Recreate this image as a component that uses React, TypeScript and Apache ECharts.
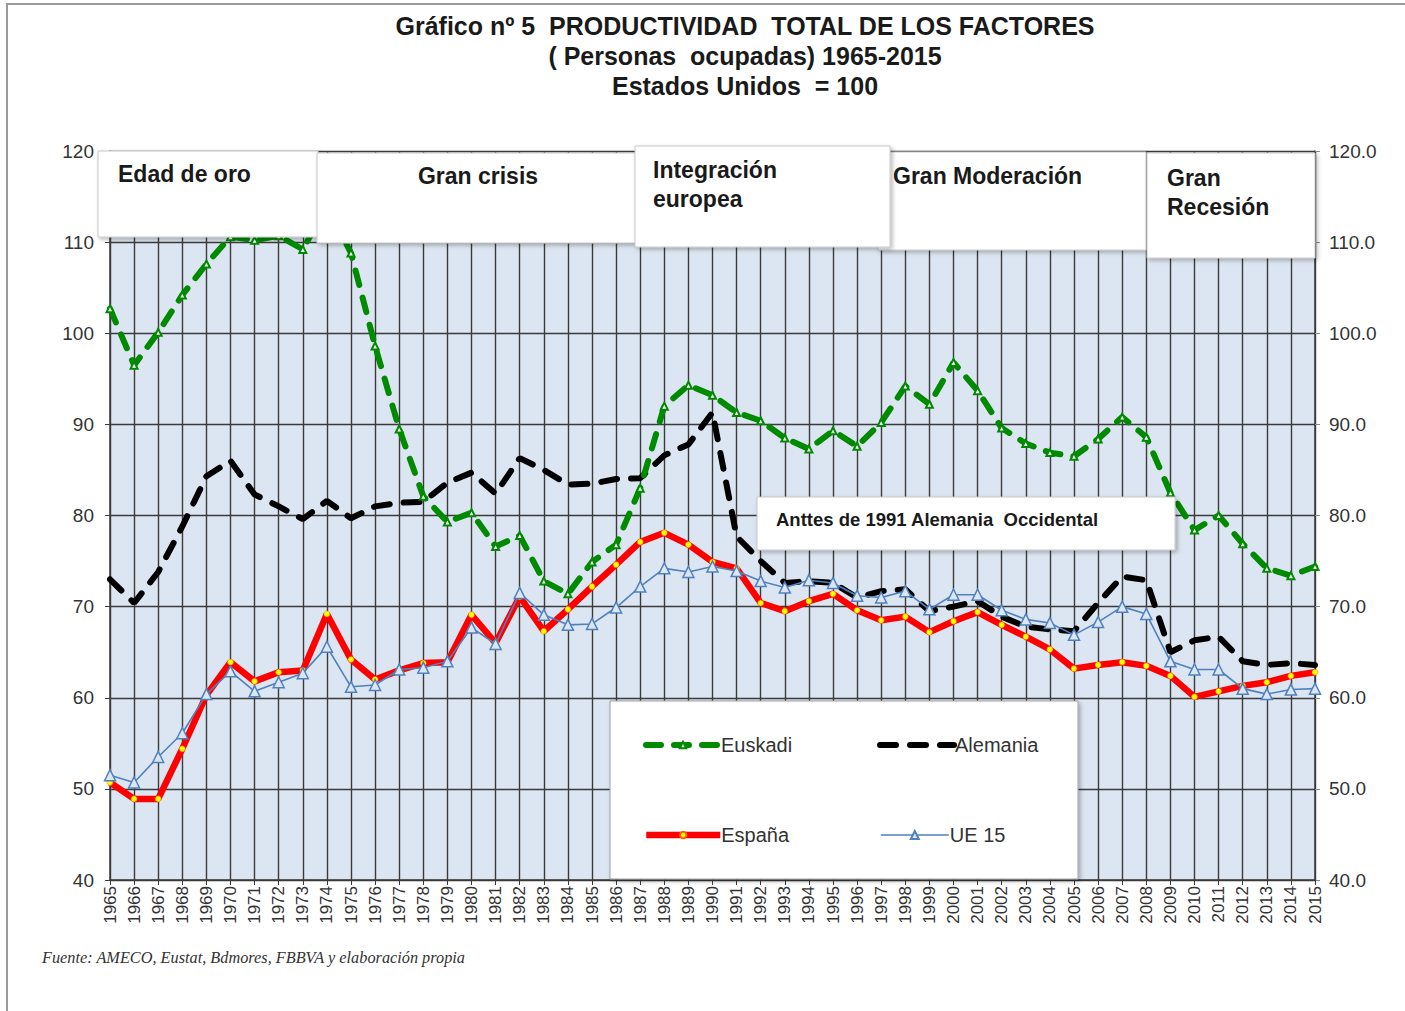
import React, { useEffect, useRef } from "react";
import * as echarts from "echarts";

const years: string[] = [];
for (let y = 1965; y <= 2015; y++) years.push(String(y));

const euskadi = [
  102.7, 96.5, 100.1, 104.2, 107.6, 110.6, 110.2, 110.7, 109.2, 114.0,
  108.8, 98.6, 89.5, 82.1, 79.3, 80.3, 76.6, 77.8, 72.8, 71.4,
  74.9, 76.8, 83.0, 92.0, 94.3, 93.2, 91.3, 90.4, 88.5, 87.3,
  89.3, 87.6, 90.2, 94.2, 92.2, 96.8, 93.7, 89.6, 87.9, 86.9,
  86.5, 88.4, 90.8, 88.6, 82.5, 78.4, 80.0, 76.9, 74.2, 73.4,
  74.4,
];

const alemania = [
  73.0, 70.4, 73.8, 78.8, 84.3, 86.0, 82.3, 81.0, 79.6, 81.6,
  79.7, 81.0, 81.4, 81.5, 83.6, 84.7, 82.4, 86.3, 85.0, 83.4,
  83.5, 84.0, 84.1, 86.6, 87.8, 91.3, 77.7, 75.0, 72.6, 72.8,
  72.6, 71.0, 71.7, 71.9, 69.5, 70.0, 70.6, 68.9, 67.8, 67.5,
  67.3, 70.4, 73.3, 72.9, 65.0, 66.3, 66.7, 64.0, 63.6, 63.8,
  63.6,
];

const espana = [
  50.7, 48.9, 48.9, 54.4, 60.3, 63.9, 61.8, 62.8, 63.0, 69.2,
  64.2, 62.0, 63.0, 63.8, 63.9, 69.1, 66.0, 71.1, 67.3, 69.7,
  72.2, 74.6, 77.1, 78.1, 76.8, 74.9, 74.2, 70.4, 69.5, 70.6,
  71.4, 69.6, 68.5, 68.9, 67.2, 68.4, 69.4, 68.0, 66.7, 65.3,
  63.2, 63.6, 63.9, 63.5, 62.4, 60.1, 60.7, 61.3, 61.7, 62.4,
  62.8,
];

const ue15 = [
  51.5, 50.7, 53.5, 56.1, 60.4, 62.9, 60.7, 61.7, 62.7, 65.6,
  61.2, 61.4, 63.1, 63.3, 64.0, 67.7, 65.9, 71.5, 69.1, 68.0,
  68.1, 69.9, 72.2, 74.2, 73.8, 74.4, 73.9, 72.8, 72.1, 72.9,
  72.6, 71.2, 71.0, 71.7, 69.7, 71.3, 71.3, 69.6, 68.6, 68.2,
  66.9, 68.3, 70.0, 69.2, 64.0, 63.1, 63.1, 61.0, 60.4, 60.9,
  61.0,
];

const titleLines = [
  "Gráfico nº 5  PRODUCTIVIDAD  TOTAL DE LOS FACTORES",
  "( Personas  ocupadas) 1965-2015",
  "Estados Unidos  = 100",
];

const periodLabels = [
  "Edad de oro",
  "Gran crisis",
  "Integración\neuropea",
  "Gran Moderación",
  "Gran\nRecesión",
];

const noteText = "Anttes de 1991 Alemania  Occidental";
const sourceText = "Fuente: AMECO, Eustat, Bdmores, FBBVA y elaboración propia";

const FONT = "'Liberation Sans', Arial, Helvetica, sans-serif";
const GRID = "#3a3a3a";

const boxStyle = {
  fill: "#ffffff",
  stroke: "#c8c8c8",
  lineWidth: 1,
  shadowBlur: 4,
  shadowColor: "rgba(0,0,0,0.28)",
  shadowOffsetX: 2,
  shadowOffsetY: 2,
};

function boxText(x: number, y: number, text: string, extra: any = {}) {
  return {
    type: "text",
    x,
    y,
    z: 101,
    style: {
      text,
      fontFamily: FONT,
      fontSize: 23,
      fontWeight: "bold",
      fill: "#1a1a1a",
      lineHeight: 29,
      verticalAlign: "top",
      ...extra,
    },
  };
}

function legendFor(
  name: string,
  left: number,
  top: number,
  itemWidth: number,
  itemHeight: number,
  lineWidth: number,
  itemStyle: any = {}
) {
  return {
    show: true,
    data: [name],
    left,
    top,
    z: 50,
    padding: 0,
    itemWidth,
    itemHeight,
    itemGap: 0,
    selectedMode: false,
    lineStyle: { width: lineWidth },
    itemStyle,
    textStyle: { fontFamily: FONT, fontSize: 20, color: "#333333", padding: [0, 0, 0, -4] },
  };
}

export default function App() {
  const ref = useRef<HTMLDivElement>(null);

  useEffect(() => {
    if (!ref.current) return;
    const chart = echarts.init(ref.current, undefined, { renderer: "svg" });

    const option: any = {
      animation: false,
      backgroundColor: "#ffffff",
      title: {
        text: titleLines.join("\n"),
        left: 745,
        top: 11,
        padding: 0,
        textAlign: "center",
        textStyle: {
          fontFamily: FONT,
          fontSize: 25,
          fontWeight: "bold",
          color: "#1a1a1a",
          lineHeight: 30,
        },
      },
      legend: [
        legendFor("Euskadi", 643, 735, 74, 8, 6),
        legendFor("Alemania", 877, 735, 74, 8, 6, { opacity: 0 }),
        legendFor("España", 643, 825, 74, 8, 6.5),
        legendFor("UE 15", 880, 825, 68, 10, 1.6),
      ],
      grid: {
        left: 110,
        right: 90,
        top: 151,
        bottom: 131,
        show: true,
        backgroundColor: "#dce6f2",
        borderWidth: 0,
        containLabel: false,
      },
      xAxis: {
        type: "category",
        data: years,
        boundaryGap: false,
        axisLine: { show: true, lineStyle: { color: GRID, width: 1.5 } },
        axisTick: { show: true, length: 5, lineStyle: { color: GRID } },
        axisLabel: {
          rotate: 90,
          interval: 0,
          margin: 6,
          fontFamily: FONT,
          fontSize: 17,
          color: "#333333",
        },
        splitLine: { show: true, lineStyle: { color: GRID, width: 1.4 } },
      },
      yAxis: [
        {
          type: "value",
          min: 40,
          max: 120,
          interval: 10,
          position: "left",
          axisLine: { show: true, lineStyle: { color: GRID, width: 1.5 } },
          axisTick: { show: true, length: 5, lineStyle: { color: GRID } },
          axisLabel: { fontFamily: FONT, fontSize: 19, color: "#333333", margin: 16 },
          splitLine: { show: true, lineStyle: { color: GRID, width: 1.4 } },
        },
        {
          type: "value",
          min: 40,
          max: 120,
          interval: 10,
          position: "right",
          axisLine: { show: true, lineStyle: { color: GRID, width: 1.5 } },
          axisTick: { show: true, length: 5, lineStyle: { color: "#888888" } },
          axisLabel: {
            fontFamily: FONT,
            fontSize: 19,
            color: "#333333",
            margin: 14,
            formatter: (v: number) => v.toFixed(1),
          },
          splitLine: { show: false },
        },
      ],
      series: [
        {
          name: "Euskadi",
          type: "line",
          data: euskadi,
          yAxisIndex: 0,
          symbol: "emptyTriangle",
          symbolSize: 7,
          z: 3,
          itemStyle: { color: "#008a00", borderWidth: 1 },
          lineStyle: { color: "#008a00", width: 6, type: [15, 13], cap: "round" },
        },
        {
          name: "Alemania",
          type: "line",
          data: alemania,
          yAxisIndex: 0,
          symbol: "none",
          z: 2,
          itemStyle: { color: "#000000" },
          lineStyle: { color: "#000000", width: 6, type: [16, 14], cap: "round" },
        },
        {
          name: "España",
          type: "line",
          data: espana,
          yAxisIndex: 0,
          symbol: "circle",
          symbolSize: 6,
          z: 4,
          itemStyle: { color: "#ffff00", borderColor: "#ff6000", borderWidth: 0.5 },
          lineStyle: { color: "#ff0000", width: 6.5 },
        },
        {
          name: "UE 15",
          type: "line",
          data: ue15,
          yAxisIndex: 0,
          symbol: "triangle",
          symbolSize: 11,
          z: 5,
          itemStyle: { color: "#dce6f2", borderColor: "#4f81bd", borderWidth: 1.5 },
          lineStyle: { color: "#4f81bd", width: 1.6 },
        },
      ],
      graphic: [
        {
          type: "polyline",
          z: 0,
          silent: true,
          shape: { points: [[7, 1011], [7, 4], [1405, 4]] },
          style: { stroke: "#9a9a9a", lineWidth: 2, fill: "none" },
        },
        { type: "rect", z: 100, shape: { x: 98, y: 151, width: 220, height: 86 }, style: boxStyle },
        { type: "rect", z: 100, shape: { x: 317, y: 153, width: 319, height: 90 }, style: boxStyle },
        { type: "rect", z: 100, shape: { x: 878, y: 152, width: 268, height: 98 }, style: boxStyle },
        { type: "rect", z: 100, shape: { x: 635, y: 146, width: 255, height: 101 }, style: boxStyle },
        { type: "rect", z: 100, shape: { x: 1147, y: 153, width: 168, height: 105 }, style: boxStyle },
        boxText(118, 159, periodLabels[0]),
        boxText(478, 161, periodLabels[1], { align: "center" }),
        boxText(653, 155, periodLabels[2]),
        boxText(893, 161, periodLabels[3]),
        boxText(1167, 163, periodLabels[4]),
        { type: "rect", z: 100, shape: { x: 757, y: 497, width: 418, height: 53 }, style: boxStyle },
        boxText(776, 505, noteText, { fontSize: 18.5 }),
        { type: "rect", z: 40, shape: { x: 610, y: 701, width: 468, height: 178 }, style: { ...boxStyle, stroke: "#a0a0a0" } },
        {
          type: "text",
          x: 42,
          y: 949,
          z: 100,
          style: {
            text: sourceText,
            fontFamily: "'Liberation Serif', 'Times New Roman', serif",
            fontStyle: "italic",
            fontSize: 16.3,
            fill: "#333333",
            verticalAlign: "top",
          },
        },
      ],
    };

    chart.setOption(option);
    return () => chart.dispose();
  }, []);

  return (
    <div
      ref={ref}
      style={{ position: "absolute", left: 0, top: 0, width: 1405, height: 1011, background: "#fff" }}
    />
  );
}
